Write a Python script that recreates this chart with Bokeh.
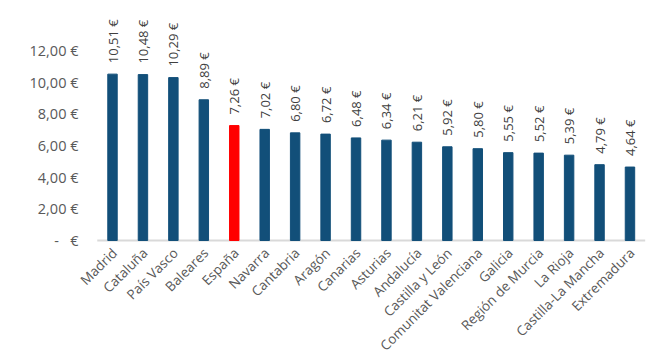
import math
from bokeh.plotting import figure
from bokeh.models import ColumnDataSource, Range1d
from bokeh.core.properties import value
from bokeh.embed import file_html
from bokeh.resources import INLINE

regions = ["Madrid", "Cataluña", "País Vasco", "Baleares", "España", "Navarra",
           "Cantabria", "Aragón", "Canarias", "Asturias", "Andalucía", "Castilla y León",
           "Comunitat Valenciana", "Galicia", "Región de Murcia", "La Rioja",
           "Castilla-La Mancha", "Extremadura"]
prices = [10.51, 10.48, 10.29, 8.89, 7.26, 7.02, 6.80, 6.72, 6.48, 6.34, 6.21,
          5.92, 5.80, 5.55, 5.52, 5.39, 4.79, 4.64]
y_ticks = [0, 2, 4, 6, 8, 10, 12]

BLUE = "#124F79"
RED = "#FF0000"
GRAY = "#595959"

n = len(regions)
xs = list(range(n))
colors = [RED if r == "España" else BLUE for r in regions]
labels = [("%.2f" % v).replace(".", ",") + " €" for v in prices]
src = ColumnDataSource(dict(x=xs, name=regions, top=prices, color=colors,
                            label=labels, zero=[0] * n))

tick_text = ["-\u00a0\u00a0\u00a0€" if t == 0 else ("%.2f" % t).replace(".", ",") + " €"
             for t in y_ticks]
ysrc = ColumnDataSource(dict(x=[0] * len(y_ticks), y=y_ticks, text=tick_text))

W, H = 650, 356
px_per_cat = 30.44
x0 = -112 / px_per_cat
p = figure(x_range=Range1d(x0, x0 + W / px_per_cat),
           y_range=Range1d(-(H - 240) / 15.83, 240 / 15.83),
           width=W, height=H, output_backend="svg", toolbar_location=None,
           min_border_left=0, min_border_right=0, min_border_top=0, min_border_bottom=0)
p.outline_line_color = None
p.background_fill_color = "white"
p.border_fill_color = "white"
p.xaxis.visible = False
p.yaxis.visible = False
p.xgrid.grid_line_color = None
p.ygrid.grid_line_color = None

# category axis line
p.segment(x0=[-0.5], y0=[0], x1=[n - 0.5], y1=[0], line_color="#D9D9D9", line_width=2)

p.vbar(x="x", top="top", bottom=0, width=0.31, color="color", source=src)

# value labels
p.text(x="x", y="top", text="label", source=src, angle=math.pi / 2,
       text_align="left", text_baseline="middle", y_offset=-11,
       text_font=value("Open Sans"), text_font_size="13px", text_color="#404040")

# category labels
p.text(x="x", y="zero", text="name", source=src, angle=math.pi / 4,
       text_align="right", text_baseline="middle", x_offset=2, y_offset=10,
       text_font=value("Open Sans"), text_font_size="13.5px", text_color=GRAY)

# value-axis tick labels
p.text(x="x", y="y", text="text", source=ysrc, text_align="right",
       text_baseline="middle", x_offset=-34,
       text_font=value("Open Sans"), text_font_size="14.5px", text_color=GRAY)

open("out.html", "w").write(file_html(p, INLINE))
